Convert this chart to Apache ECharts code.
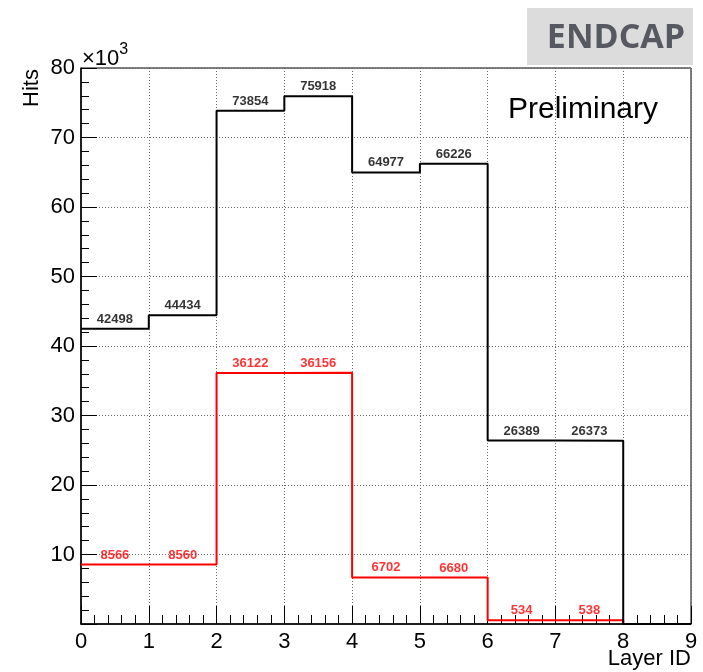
<!DOCTYPE html>
<html>
<head>
<meta charset="utf-8">
<title>ENDCAP hits per layer</title>
<script src="https://cdn.jsdelivr.net/npm/echarts@6/dist/echarts.min.js"></script>
<style>
  html, body { margin: 0; padding: 0; background: #fff; }
  #chart { width: 703px; height: 672px; }
</style>
</head>
<body>
<div id="chart"></div>
<script>
// Bin edges of the layer histogram (9 bins, 0..9)
const layerEdges = [0, 1, 2, 3, 4, 5, 6, 7, 8, 9];
// Hits per layer bin
const totalHits = [42498, 44434, 73854, 75918, 64977, 66226, 26389, 26373, 0];
const subsetHits = [8566, 8560, 36122, 36156, 6702, 6680, 534, 538, 0];
// Y tick labels (in units of 10^3)
const yTickLabels = ['', '10', '20', '30', '40', '50', '60', '70', '80'];

const FONT = 'Liberation Sans, Arial, Helvetica, sans-serif';

// Step outline: each bin drawn flat from its low edge to its high edge
function stepPoints(values) {
  const pts = values.map((v, i) => [layerEdges[i], v]);
  pts.push([layerEdges[values.length], values[values.length - 1]]);
  return pts;
}
// Bin-centre points used to print the bin contents
function labelPoints(values) {
  return values
    .map((v, i) => ({ value: [(layerEdges[i] + layerEdges[i + 1]) / 2, v], show: v > 0 }))
    .filter(p => p.show)
    .map(p => ({ value: p.value }));
}

function histSeries(name, values, color) {
  return [
    {
      name: name,
      type: 'line',
      step: 'end',
      data: stepPoints(values),
      showSymbol: false,
      symbol: 'none',
      clip: false,
      lineStyle: { color: color, width: 2 },
      animation: false,
      z: 3
    },
    {
      name: name + ' contents',
      type: 'scatter',
      data: labelPoints(values),
      symbolSize: 0,
      animation: false,
      label: {
        show: true,
        position: 'top',
        distance: 3,
        color: color,
        fontFamily: FONT,
        fontWeight: 'bold',
        fontSize: 13,
        formatter: p => String(p.value[1])
      },
      z: 4
    }
  ];
}

const chart = echarts.init(document.getElementById('chart'), null, { renderer: 'canvas' });

chart.setOption({
  backgroundColor: '#ffffff',
  animation: false,
  grid: {
    left: 81,
    right: 12,
    top: 68,
    bottom: 48,
    show: true,
    borderColor: '#000',
    borderWidth: 1,
    backgroundColor: 'transparent'
  },
  xAxis: {
    type: 'value',
    min: 0,
    max: 9,
    interval: 1,
    axisLine: { show: true, onZero: false, lineStyle: { color: '#000', width: 1.5 } },
    axisTick: { show: true, inside: true, length: 18, lineStyle: { color: '#000', width: 1 } },
    minorTick: { show: true, splitNumber: 5, length: 9, lineStyle: { color: '#000', width: 1 } },
    axisLabel: {
      color: '#000', fontFamily: FONT, fontSize: 22, margin: 7,
      formatter: v => String(v)
    },
    splitLine: { show: true, lineStyle: { color: '#666', width: 1, type: [1, 2] } },
    minorSplitLine: { show: false }
  },
  yAxis: {
    type: 'value',
    min: 0,
    max: 80000,
    interval: 10000,
    axisLine: { show: true, onZero: false, lineStyle: { color: '#000', width: 1.5 } },
    axisTick: { show: true, inside: true, length: 16, lineStyle: { color: '#000', width: 1 } },
    minorTick: { show: true, splitNumber: 5, length: 8, lineStyle: { color: '#000', width: 1 } },
    axisLabel: {
      color: '#000', fontFamily: FONT, fontSize: 22, margin: 6,
      formatter: v => yTickLabels[Math.round(v / 10000)]
    },
    splitLine: { show: true, lineStyle: { color: '#666', width: 1, type: [1, 2] } }
  },
  series: [
    ...histSeries('subset', subsetHits, '#ff0000'),
    ...histSeries('total', totalHits, '#000000')
  ],
  graphic: [
    {
      type: 'text',
      left: 82,
      top: 42,
      style: {
        text: '{b|×10}{s|3}',
        rich: {
          b: { fontFamily: FONT, fontSize: 22, fill: '#000', verticalAlign: 'bottom', lineHeight: 28 },
          s: { fontFamily: FONT, fontSize: 16, fill: '#000', verticalAlign: 'top', lineHeight: 18 }
        }
      },
      z: 10
    },
    {
      type: 'text',
      x: 21,
      y: 107,
      rotation: Math.PI / 2,
      style: {
        text: 'Hits',
        fontFamily: FONT,
        fontSize: 22,
        fill: '#000',
        textAlign: 'left',
        textVerticalAlign: 'top'
      },
      z: 10
    },
    {
      type: 'text',
      right: 12,
      top: 648,
      style: {
        text: 'Layer ID',
        fontFamily: FONT,
        fontSize: 22,
        fill: '#000'
      },
      z: 10
    },
    {
      type: 'rect',
      shape: { x: 527, y: 8, width: 166, height: 57 },
      style: { fill: '#dcdcdc' },
      z: 9
    },
    {
      type: 'text',
      x: 616,
      y: 38,
      style: {
        text: 'ENDCAP',
        fontFamily: 'Open Sans, Noto Sans, sans-serif',
        fontWeight: 'bold',
        fontSize: 34,
        fill: '#565a60',
        textAlign: 'center',
        textVerticalAlign: 'middle'
      },
      z: 10
    },
    {
      type: 'text',
      x: 508,
      y: 110,
      style: {
        text: 'Preliminary',
        fontFamily: FONT,
        fontSize: 30,
        fill: '#000',
        textAlign: 'left',
        textVerticalAlign: 'middle'
      },
      z: 10
    }
  ]
});
</script>
</body>
</html>
